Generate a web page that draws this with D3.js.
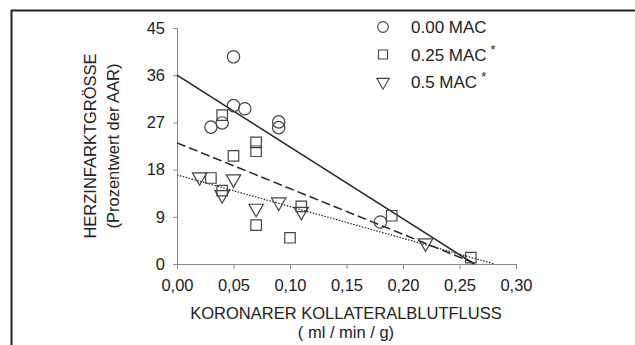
<!DOCTYPE html>
<html>
<head>
<meta charset="utf-8">
<script src="https://cdn.jsdelivr.net/npm/d3@7"></script>
<style>
  body { margin: 0; background: #fff; }
  svg { font-family: "Liberation Sans", Arial, sans-serif; }
</style>
</head>
<body>
<div id="chart"></div>
<script>
// data
var seriesNames = ["0.00 MAC", "0.25 MAC", "0.5 MAC"];
var seriesStars = [false, true, true];

var circleX = [0.03, 0.04, 0.05, 0.05, 0.06, 0.09, 0.09, 0.18];
var circleY = [26.1, 26.9, 39.5, 30.2, 29.6, 27.1, 26.0, 8.0];

var squareX = [0.03, 0.04, 0.04, 0.05, 0.07, 0.07, 0.07, 0.10, 0.11, 0.19, 0.26];
var squareY = [16.4, 28.4, 14.0, 20.6, 23.2, 21.5, 7.4, 5.0, 11.0, 9.2, 1.2];

var triX = [0.02, 0.04, 0.05, 0.07, 0.09, 0.11, 0.22];
var triY = [16.6, 13.2, 16.2, 10.6, 11.8, 10.0, 4.0];

// regression lines: start at x = 0, end where they reach zero
var lineStartY = [36.0, 23.1, 17.0];
var lineEndX = [0.263, 0.265, 0.281];
var lineDash = [null, "9,4", "1.5,1.5"];

var xTicks = [0, 0.05, 0.10, 0.15, 0.20, 0.25, 0.30];
var yTicks = [0, 9, 18, 27, 36, 45];

var W = 635, H = 345;
var fs = "16.5px";
var svg = d3.select("#chart").append("svg")
    .attr("width", W).attr("height", H);

// outer frame (top and left only)
svg.append("path")
    .attr("d", "M11.5," + H + "V10.5H" + W)
    .attr("fill", "none")
    .attr("stroke", "#222")
    .attr("stroke-width", 2);

var x = d3.scaleLinear().domain([0, 0.30]).range([177, 516]);
var y = d3.scaleLinear().domain([0, 45]).range([264, 28]);

var axisColor = "#888";

var gx = svg.append("g").attr("transform", "translate(0,264)")
    .call(d3.axisBottom(x).tickValues(xTicks).tickSize(5).tickPadding(10)
        .tickFormat(function(d) { return d3.format(".2f")(d).replace(".", ","); }));
var gy = svg.append("g").attr("transform", "translate(177,0)")
    .call(d3.axisLeft(y).tickValues(yTicks).tickSize(4).tickPadding(8));

[gx, gy].forEach(function(g) {
    g.select(".domain").attr("stroke", axisColor);
    g.selectAll(".tick line").attr("stroke", axisColor);
    g.selectAll(".tick text").attr("fill", "#222")
        .style("font-size", fs)
        .style("font-family", "Liberation Sans, Arial, sans-serif");
});

// axis titles
svg.append("text").attr("x", 346).attr("y", 319).attr("text-anchor", "middle")
    .style("font-size", fs).attr("fill", "#222")
    .text("KORONARER KOLLATERALBLUTFLUSS");
svg.append("text").attr("x", 346).attr("y", 338).attr("text-anchor", "middle")
    .style("font-size", fs).attr("fill", "#222")
    .text("( ml / min / g)");
svg.append("text").attr("transform", "translate(96,146) rotate(-90)")
    .attr("text-anchor", "middle").style("font-size", fs).attr("fill", "#222")
    .text("HERZINFARKTGRÖSSE");
svg.append("text").attr("transform", "translate(119,146) rotate(-90)")
    .attr("text-anchor", "middle").style("font-size", fs).attr("fill", "#222")
    .text("(Prozentwert der AAR)");

// regression lines
var lineG = svg.append("g");
lineStartY.forEach(function(v, i) {
    lineG.append("path")
        .datum([[0, v], [lineEndX[i], 0]])
        .attr("d", d3.line().x(function(d) { return x(d[0]); }).y(function(d) { return y(d[1]); }))
        .attr("fill", "none")
        .attr("stroke", "#222")
        .attr("stroke-width", i == 2 ? 1.2 : 1.5)
        .attr("stroke-dasharray", lineDash[i]);
});

var symStroke = "#444";
var symbols = [d3.symbolCircle, d3.symbolSquare, d3.symbolTriangle];
var symSizes = [120, 110, 90];

function drawSeries(xs, ys, k) {
    var pts = xs.map(function(v, i) { return [v, ys[i]]; });
    svg.append("g").selectAll("path").data(pts).enter().append("path")
        .attr("transform", function(d) {
            return "translate(" + x(d[0]) + "," + y(d[1]) + ")" + (k == 2 ? " rotate(180)" : "");
        })
        .attr("d", d3.symbol().type(symbols[k]).size(symSizes[k]))
        .attr("fill", "none")
        .attr("stroke", symStroke)
        .attr("stroke-width", 1.2);
}
drawSeries(circleX, circleY, 0);
drawSeries(squareX, squareY, 1);
drawSeries(triX, triY, 2);

// legend
var legend = svg.append("g");
seriesNames.forEach(function(name, i) {
    var ly = 27 + i * 27.5;
    legend.append("path")
        .attr("transform", "translate(383," + ly + ")" + (i == 2 ? " rotate(180)" : ""))
        .attr("d", d3.symbol().type(symbols[i]).size(symSizes[i] * 0.75))
        .attr("fill", "none").attr("stroke", symStroke).attr("stroke-width", 1.1);
    var t = legend.append("text").attr("x", 411).attr("y", ly + 6)
        .style("font-size", "17px").attr("fill", "#222").text(name);
    if (seriesStars[i]) {
        t.append("tspan").attr("dx", 4).attr("dy", -7).style("font-size", "13px").text("*");
    }
});
</script>
</body>
</html>
